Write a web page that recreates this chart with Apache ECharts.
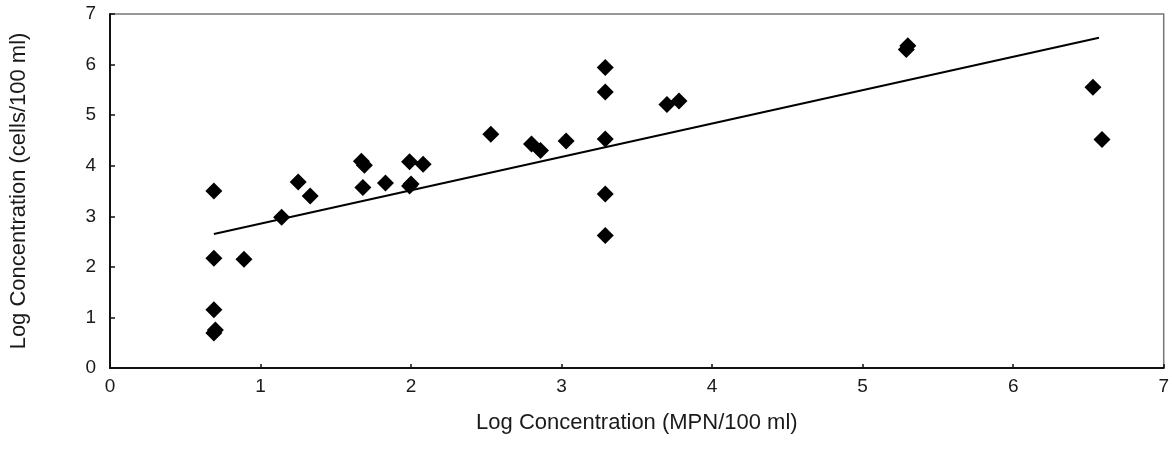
<!DOCTYPE html>
<html><head><meta charset="utf-8">
<script src="https://cdn.jsdelivr.net/npm/echarts@6/dist/echarts.min.js"></script>
<style>html,body{margin:0;padding:0;background:#fff}#c{width:1172px;height:453px}</style>
</head><body><div id="c"></div>
<script>
const xValues = [0.69,0.69,0.89,0.69,0.69,0.70,1.14,1.25,1.33,1.67,1.69,1.68,1.83,1.99,1.99,2.00,2.08,2.53,2.80,2.86,3.03,3.29,3.29,3.29,3.29,3.29,3.70,3.78,5.29,5.30,6.53,6.59];
const yValues = [3.50,2.17,2.15,1.15,0.69,0.75,2.98,3.68,3.40,4.09,4.01,3.57,3.66,4.08,3.60,3.64,4.03,4.62,4.43,4.30,4.49,5.94,5.46,4.53,3.44,2.62,5.21,5.28,6.30,6.37,5.55,4.52];
const trendX = [0.69,6.57];
const trendY = [2.65,6.53];
const xTicks = ['0','1','2','3','4','5','6','7'];
const yTicks = ['0','1','2','3','4','5','6','7'];

const pts = xValues.map((x,i)=>[x,yValues[i]]);
const line = trendX.map((x,i)=>[x,trendY[i]]);
const font = 'Liberation Sans, Arial, sans-serif';
const chart = echarts.init(document.getElementById('c'));
chart.setOption({
  animation:false,
  grid:{left:110,right:8,top:14,bottom:85,show:true,borderColor:'#777',borderWidth:1.5,backgroundColor:'transparent'},
  xAxis:{type:'value',min:0,max:7,interval:1,
    name:'Log Concentration (MPN/100 ml)',nameLocation:'middle',nameGap:44,
    nameTextStyle:{fontFamily:font,fontSize:22,color:'#1a1a1a'},
    axisLine:{lineStyle:{color:'#111',width:2}},
    axisTick:{inside:true,length:4,lineStyle:{color:'#111',width:1.5}},
    axisLabel:{fontFamily:font,fontSize:19,color:'#1a1a1a',margin:9,formatter:(v)=>xTicks[Math.round(v)]},
    splitLine:{show:false}},
  yAxis:{type:'value',min:0,max:7,interval:1,
    name:'Log Concentration (cells/100 ml)',nameLocation:'middle',nameGap:80,
    nameTextStyle:{fontFamily:font,fontSize:22,color:'#1a1a1a'},
    axisLine:{lineStyle:{color:'#111',width:2}},
    axisTick:{inside:true,length:5,lineStyle:{color:'#111',width:1.5}},
    axisLabel:{fontFamily:font,fontSize:19,color:'#1a1a1a',margin:14,formatter:(v)=>yTicks[Math.round(v)]},
    splitLine:{show:false}},
  series:[
    {type:'line',data:line,showSymbol:false,lineStyle:{color:'#000',width:2},z:2},
    {type:'scatter',data:pts,symbol:'diamond',symbolSize:17,itemStyle:{color:'#000',opacity:1},z:3}
  ]
});
</script></body></html>
